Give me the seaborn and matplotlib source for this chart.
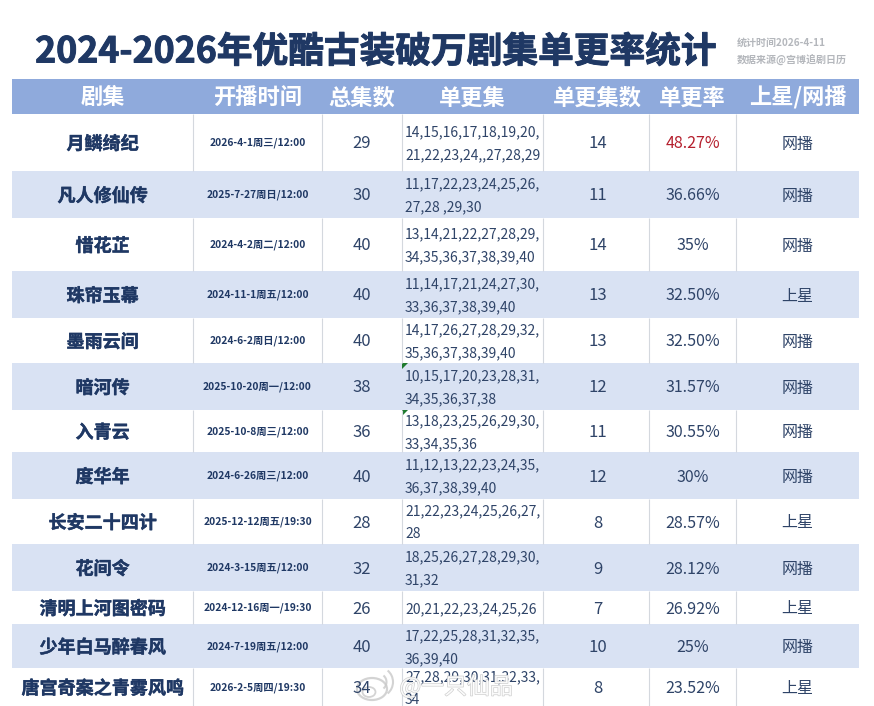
import matplotlib
matplotlib.use("Agg")

import matplotlib.patheffects as pe
import matplotlib.pyplot as plt
import numpy as np
import seaborn as sns
from matplotlib.colors import ListedColormap
from matplotlib.patches import Arc, Ellipse, Polygon

TITLE = "2024-2026年优酷古装破万剧集单更率统计"
NOTE_LINES = ["统计时间2026-4-11", "数据来源@宫博追剧日历"]
WATERMARK = "@一只仙品"

headers = ["剧集", "开播时间", "总集数", "单更集", "单更集数", "单更率", "上星/网播"]
shows = ["月鳞绮纪", "凡人修仙传", "惜花芷", "珠帘玉幕", "墨雨云间", "暗河传", "入青云",
         "度华年", "长安二十四计", "花间令", "清明上河图密码", "少年白马醉春风", "唐宫奇案之青雾风鸣"]
air_dates = ["2026-4-1周三/12:00", "2025-7-27周日/12:00", "2024-4-2周二/12:00",
             "2024-11-1周五/12:00", "2024-6-2周日/12:00", "2025-10-20周一/12:00",
             "2025-10-8周三/12:00", "2024-6-26周三/12:00", "2025-12-12周五/19:30",
             "2024-3-15周五/12:00", "2024-12-16周一/19:30", "2024-7-19周五/12:00",
             "2026-2-5周四/19:30"]
total_eps = [29, 30, 40, 40, 40, 38, 36, 40, 28, 32, 26, 40, 34]
single_eps = ["14,15,16,17,18,19,20,\n21,22,23,24,,27,28,29",
              "11,17,22,23,24,25,26,\n27,28 ,29,30",
              "13,14,21,22,27,28,29,\n34,35,36,37,38,39,40",
              "11,14,17,21,24,27,30,\n33,36,37,38,39,40",
              "14,17,26,27,28,29,32,\n35,36,37,38,39,40",
              "10,15,17,20,23,28,31,\n34,35,36,37,38",
              "13,18,23,25,26,29,30,\n33,34,35,36",
              "11,12,13,22,23,24,35,\n36,37,38,39,40",
              "21,22,23,24,25,26,27,\n28",
              "18,25,26,27,28,29,30,\n31,32",
              "20,21,22,23,24,25,26",
              "17,22,25,28,31,32,35,\n36,39,40",
              "27,28,29,30,31,32,33,\n34"]
single_counts = [14, 11, 14, 13, 13, 12, 11, 12, 8, 9, 7, 10, 8]
rates = ["48.27%", "36.66%", "35%", "32.50%", "32.50%", "31.57%", "30.55%",
         "30%", "28.57%", "28.12%", "26.92%", "25%", "23.52%"]
channels = ["网播", "网播", "网播", "上星", "网播", "网播", "网播",
            "网播", "上星", "网播", "上星", "网播", "上星"]

# layout in image pixels
W, H = 874, 706
col_edges = [12, 193, 322, 402, 543, 649, 736, 859]
row_edges = [114, 171, 218, 271, 318, 363, 410, 452, 499, 544, 591, 624, 668, 706]
header_top = 79
line_gap = 23
nudge = 1.5  # CJK glyphs sit a little high with va="center"

NAVY = "#1f3864"
TEXT = "#2f4468"
HEADER = "#8faadc"
BAND = "#d9e2f3"

sns.set_theme(style="white")
plt.rcParams["font.family"] = ["Noto Sans CJK SC", "DejaVu Sans"]

# one heatmap cell per image pixel, so the uneven row heights come out right
cells = np.zeros((H, W))
cells[header_top:row_edges[0], col_edges[0]:col_edges[-1]] = 2
for i in range(1, len(shows), 2):
    cells[row_edges[i]:row_edges[i + 1], col_edges[0]:col_edges[-1]] = 1

fig = plt.figure(figsize=(W / 100, H / 100), dpi=100)
ax = fig.add_axes([0, 0, 1, 1])
sns.heatmap(cells, cmap=ListedColormap(["white", BAND, HEADER]), vmin=0, vmax=2,
            cbar=False, xticklabels=False, yticklabels=False, ax=ax)

# column rules only show on the white rows
for i in range(0, len(shows), 2):
    ax.vlines(col_edges[1:-1], row_edges[i], row_edges[i + 1], color="#d4d8de", linewidth=0.8)

ax.text(375.5, 52, TITLE, fontsize=25.7, fontweight="bold", color=NAVY, ha="center", va="center",
        path_effects=[pe.withStroke(linewidth=0.7, foreground=NAVY)])
ax.text(737, 43, NOTE_LINES[0], fontsize=7.2, fontweight="bold", color="#b4b7bc", va="center")
ax.text(737, 59, NOTE_LINES[1], fontsize=7.2, fontweight="bold", color="#b4b7bc", va="center")

centers = [(a + b) / 2 for a, b in zip(col_edges[:-1], col_edges[1:])]
centers[4] += 1.5  # this column's text sits right of centre in the original
for x, label in zip(centers, headers):
    ax.text(x, (header_top + row_edges[0]) / 2 + nudge, label, fontsize=16, fontweight="bold",
            color="white", ha="center", va="center")

for i, show in enumerate(shows):
    y = (row_edges[i] + row_edges[i + 1]) / 2 + nudge
    ax.text(centers[0], y, show, fontsize=13, fontweight="bold", color=NAVY, ha="center", va="center",
            path_effects=[pe.withStroke(linewidth=0.3, foreground=NAVY)])
    ax.text(centers[1], y - 1, air_dates[i], fontsize=7.4, fontweight="bold", color=NAVY, ha="center", va="center")
    ax.text(centers[2], y, str(total_eps[i]), fontsize=12, color=TEXT, ha="center", va="center")
    lines = single_eps[i].split("\n")
    offset = (len(lines) - 1) * line_gap / 2
    for k, line in enumerate(lines):
        ax.text(col_edges[3] + 3, y - offset + k * line_gap, line, fontsize=10, color=TEXT, va="center")
    ax.text(centers[4], y, str(single_counts[i]), fontsize=12, color=TEXT, ha="center", va="center")
    ax.text(centers[5], y, rates[i], fontsize=11.5, color="#b5202e" if i == 0 else TEXT, ha="center", va="center")
    ax.text(centers[6], y, channels[i], fontsize=11.5, color=TEXT, ha="center", va="center")

# small green comment flags in the episode column
for i in (5, 6):
    corner = (col_edges[3], row_edges[i])
    ax.add_patch(Polygon([corner, (corner[0] + 6, corner[1]), (corner[0], corner[1] + 6)],
                         closed=True, color="#1e7a2e", linewidth=0))

# weibo watermark
mark = "#c9c9c9"
ax.add_patch(Ellipse((372, 689), 30, 22, fill=False, edgecolor=mark, linewidth=1.6, alpha=0.8))
ax.add_patch(Ellipse((369, 692), 13, 10, fill=False, edgecolor=mark, linewidth=1.3, alpha=0.8))
ax.add_patch(Arc((378, 682), 30, 30, theta1=-50, theta2=50, edgecolor=mark, linewidth=1.5, alpha=0.8))
ax.add_patch(Arc((378, 682), 17, 17, theta1=-50, theta2=50, edgecolor=mark, linewidth=1.5, alpha=0.8))
ax.text(456, 687, WATERMARK, fontsize=16.5, color="white", alpha=0.85, ha="center", va="center",
        path_effects=[pe.withStroke(linewidth=0.9, foreground="#c4c4c4")])

fig.savefig("out.png", dpi=100)
plt.close(fig)
